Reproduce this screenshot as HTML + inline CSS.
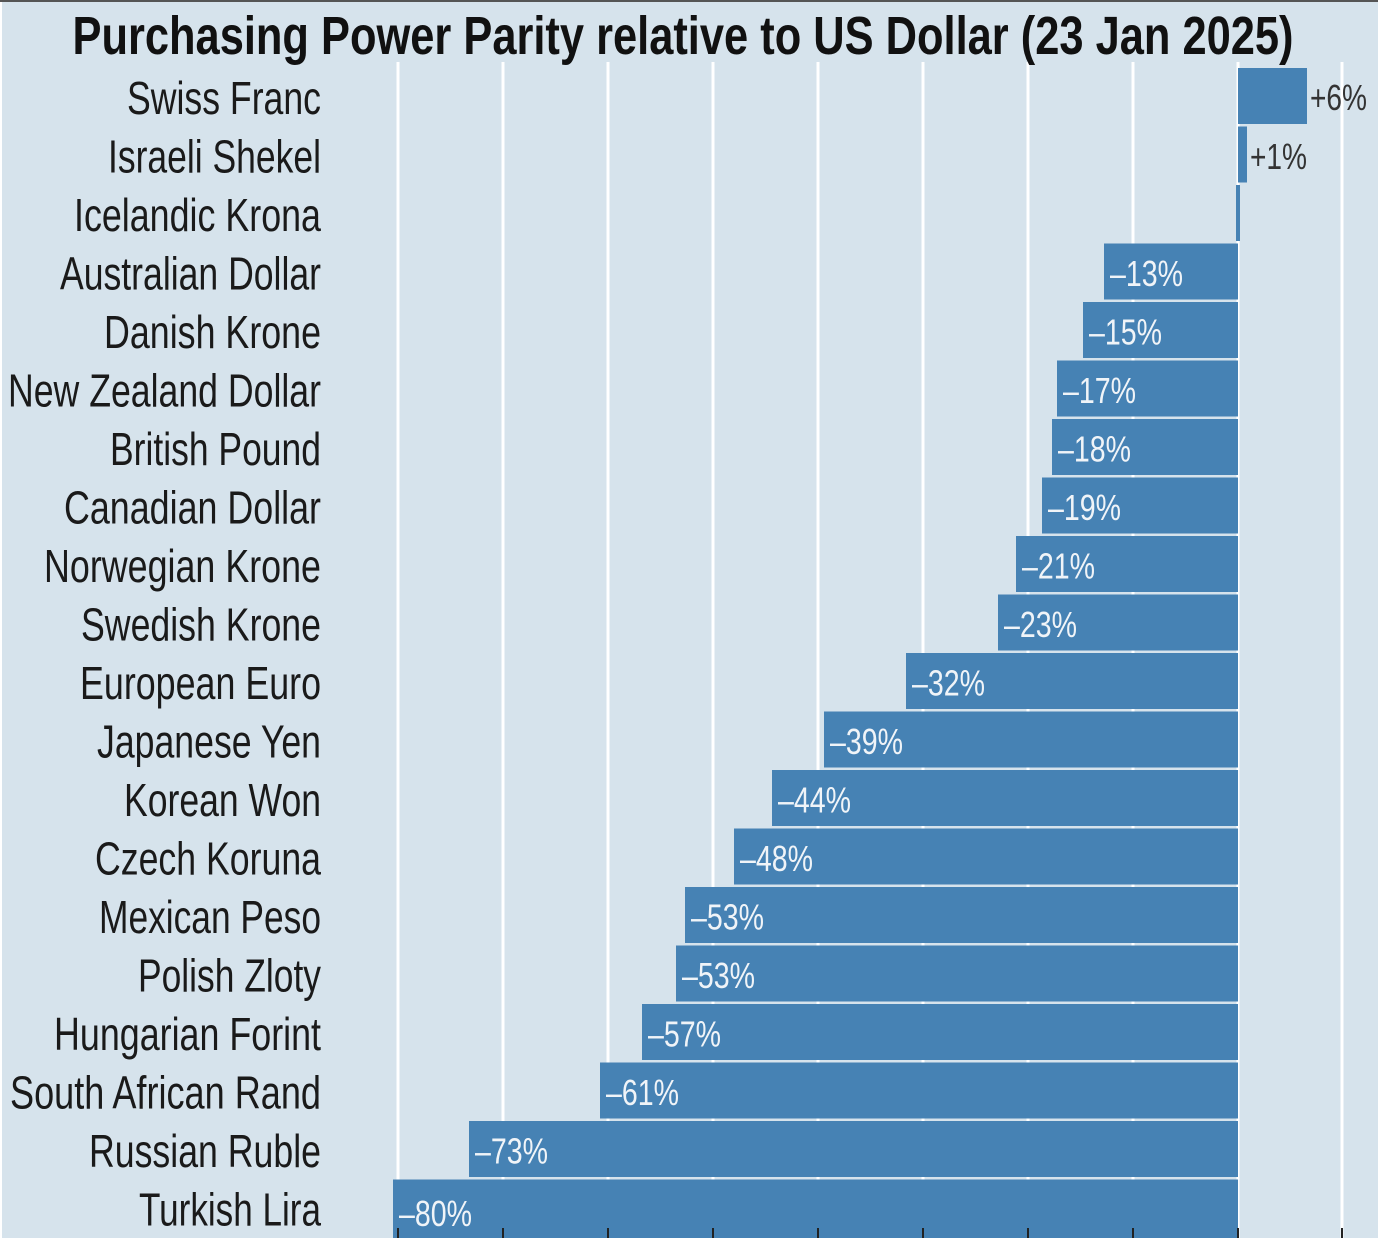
<!DOCTYPE html>
<html><head><meta charset="utf-8"><style>
html,body{margin:0;padding:0;background:#fff;}
svg{display:block;}
text{font-family:"Liberation Sans Narrow","Liberation Sans",sans-serif;}
</style></head><body>
<svg width="1378" height="1240" xmlns="http://www.w3.org/2000/svg">
<rect x="0" y="0" width="1378" height="1240" fill="#fff"/>
<rect x="2" y="2" width="1376" height="1236" fill="#d6e3ec"/>
<rect x="0" y="0" width="1378" height="2" fill="#555"/>
<g stroke="#fff" stroke-width="3">
<line x1="398" y1="62" x2="398" y2="1238"/><line x1="503" y1="62" x2="503" y2="1238"/>
<line x1="608" y1="62" x2="608" y2="1238"/><line x1="713" y1="62" x2="713" y2="1238"/>
<line x1="818" y1="62" x2="818" y2="1238"/><line x1="923" y1="62" x2="923" y2="1238"/>
<line x1="1028" y1="62" x2="1028" y2="1238"/><line x1="1133" y1="62" x2="1133" y2="1238"/>
<line x1="1238" y1="62" x2="1238" y2="1238"/><line x1="1342" y1="62" x2="1342" y2="1238"/>
</g>
<text x="683" y="54" text-anchor="middle" font-size="54" font-weight="bold" fill="#111" textLength="1221" lengthAdjust="spacingAndGlyphs">Purchasing Power Parity relative to US Dollar (23 Jan 2025)</text>
<g fill="#4682b4">
<rect x="1238" y="68" width="69" height="56"/>
<rect x="1238" y="126.5" width="9" height="56"/>
<rect x="1236" y="185" width="4" height="56"/>
<rect x="1104" y="243.5" width="134" height="56"/>
<rect x="1083" y="302" width="155" height="56"/>
<rect x="1057" y="360.5" width="181" height="56"/>
<rect x="1052" y="419" width="186" height="56"/>
<rect x="1042" y="477.5" width="196" height="56"/>
<rect x="1016" y="536" width="222" height="56"/>
<rect x="998" y="594.5" width="240" height="56"/>
<rect x="906" y="653" width="332" height="56"/>
<rect x="824" y="711.5" width="414" height="56"/>
<rect x="772" y="770" width="466" height="56"/>
<rect x="734" y="828.5" width="504" height="56"/>
<rect x="685" y="887" width="553" height="56"/>
<rect x="676" y="945.5" width="562" height="56"/>
<rect x="642" y="1004" width="596" height="56"/>
<rect x="600" y="1062.5" width="638" height="56"/>
<rect x="469" y="1121" width="769" height="56"/>
<rect x="393" y="1179.5" width="845" height="58.5"/>
</g>
<g stroke="#222" stroke-width="2">
<line x1="398" y1="1228" x2="398" y2="1238"/><line x1="503" y1="1228" x2="503" y2="1238"/>
<line x1="608" y1="1228" x2="608" y2="1238"/><line x1="713" y1="1228" x2="713" y2="1238"/>
<line x1="818" y1="1228" x2="818" y2="1238"/><line x1="923" y1="1228" x2="923" y2="1238"/>
<line x1="1028" y1="1228" x2="1028" y2="1238"/><line x1="1133" y1="1228" x2="1133" y2="1238"/>
<line x1="1238" y1="1228" x2="1238" y2="1238"/><line x1="1342" y1="1228" x2="1342" y2="1238"/>
</g>
<g font-size="46" fill="#1a1a1a" lengthAdjust="spacingAndGlyphs">
<text x="127" y="114" textLength="194" lengthAdjust="spacingAndGlyphs">Swiss Franc</text>
<text x="108" y="172.5" textLength="213" lengthAdjust="spacingAndGlyphs">Israeli Shekel</text>
<text x="74" y="231" textLength="247" lengthAdjust="spacingAndGlyphs">Icelandic Krona</text>
<text x="60" y="289.5" textLength="261" lengthAdjust="spacingAndGlyphs">Australian Dollar</text>
<text x="104" y="348" textLength="217" lengthAdjust="spacingAndGlyphs">Danish Krone</text>
<text x="8" y="406.5" textLength="313" lengthAdjust="spacingAndGlyphs">New Zealand Dollar</text>
<text x="110" y="465" textLength="211" lengthAdjust="spacingAndGlyphs">British Pound</text>
<text x="64" y="523.5" textLength="257" lengthAdjust="spacingAndGlyphs">Canadian Dollar</text>
<text x="44" y="582" textLength="277" lengthAdjust="spacingAndGlyphs">Norwegian Krone</text>
<text x="81" y="640.5" textLength="240" lengthAdjust="spacingAndGlyphs">Swedish Krone</text>
<text x="80" y="699" textLength="241" lengthAdjust="spacingAndGlyphs">European Euro</text>
<text x="97" y="757.5" textLength="224" lengthAdjust="spacingAndGlyphs">Japanese Yen</text>
<text x="124" y="816" textLength="197" lengthAdjust="spacingAndGlyphs">Korean Won</text>
<text x="95" y="874.5" textLength="226" lengthAdjust="spacingAndGlyphs">Czech Koruna</text>
<text x="99" y="933" textLength="222" lengthAdjust="spacingAndGlyphs">Mexican Peso</text>
<text x="138" y="991.5" textLength="183" lengthAdjust="spacingAndGlyphs">Polish Zloty</text>
<text x="54" y="1050" textLength="267" lengthAdjust="spacingAndGlyphs">Hungarian Forint</text>
<text x="10" y="1108.5" textLength="311" lengthAdjust="spacingAndGlyphs">South African Rand</text>
<text x="89" y="1167" textLength="232" lengthAdjust="spacingAndGlyphs">Russian Ruble</text>
<text x="139" y="1225.5" textLength="182" lengthAdjust="spacingAndGlyphs">Turkish Lira</text>
</g>
<g font-size="36" fill="#333">
<text x="1310" y="110" textLength="57" lengthAdjust="spacingAndGlyphs">+6%</text>
<text x="1250" y="169" textLength="57" lengthAdjust="spacingAndGlyphs">+1%</text>
</g>
<g font-size="36" fill="#f0f4f8">
<text x="1110" y="286" textLength="73" lengthAdjust="spacingAndGlyphs">–13%</text>
<text x="1089" y="344.5" textLength="73" lengthAdjust="spacingAndGlyphs">–15%</text>
<text x="1063" y="403" textLength="73" lengthAdjust="spacingAndGlyphs">–17%</text>
<text x="1058" y="461.5" textLength="73" lengthAdjust="spacingAndGlyphs">–18%</text>
<text x="1048" y="520" textLength="73" lengthAdjust="spacingAndGlyphs">–19%</text>
<text x="1022" y="578.5" textLength="73" lengthAdjust="spacingAndGlyphs">–21%</text>
<text x="1004" y="637" textLength="73" lengthAdjust="spacingAndGlyphs">–23%</text>
<text x="912" y="695.5" textLength="73" lengthAdjust="spacingAndGlyphs">–32%</text>
<text x="830" y="754" textLength="73" lengthAdjust="spacingAndGlyphs">–39%</text>
<text x="778" y="812.5" textLength="73" lengthAdjust="spacingAndGlyphs">–44%</text>
<text x="740" y="871" textLength="73" lengthAdjust="spacingAndGlyphs">–48%</text>
<text x="691" y="929.5" textLength="73" lengthAdjust="spacingAndGlyphs">–53%</text>
<text x="682" y="988" textLength="73" lengthAdjust="spacingAndGlyphs">–53%</text>
<text x="648" y="1046.5" textLength="73" lengthAdjust="spacingAndGlyphs">–57%</text>
<text x="606" y="1105" textLength="73" lengthAdjust="spacingAndGlyphs">–61%</text>
<text x="475" y="1163.5" textLength="73" lengthAdjust="spacingAndGlyphs">–73%</text>
<text x="399" y="1226" textLength="73" lengthAdjust="spacingAndGlyphs">–80%</text>
</g>
</svg>
</body></html>
